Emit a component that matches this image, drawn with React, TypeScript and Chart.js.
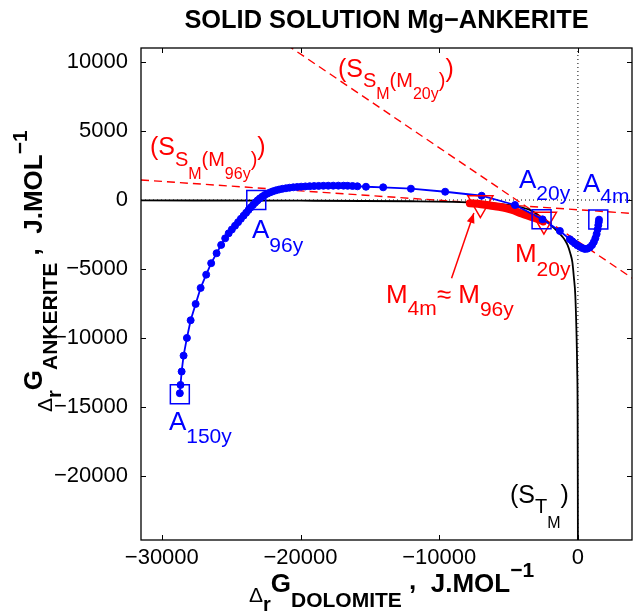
import React, { useEffect, useRef } from "react";
import { Chart, registerables } from "chart.js";

Chart.register(...registerables);

const FONT = "'Liberation Sans', Arial, Helvetica, sans-serif";
const BLUE = "#0000ff";
const RED = "#ff0000";

// axes
const xRange = [-31500, 3900];
const yRange = [-24600, 11000];
const xTicks = [-30000, -20000, -10000, 0];
const yTicks = [10000, 5000, 0, -5000, -10000, -15000, -20000];

// Ankerite path (blue dots), J/mol
const ankX = [
  -28700, -28650, -28570, -28430, -28190, -27920, -27560, -27200, -26800, -26440,
  -26050, -25720, -25430, -25180, -24950, -24720, -24500, -24300, -24100, -23920,
  -23750, -23580, -23420, -23260, -23100, -22940, -22770, -22590, -22400, -22200,
  -21990, -21770, -21540, -21300, -21050, -20790, -20520, -20240, -19950, -19650,
  -19340, -19020, -18690, -18350, -18000, -17640, -17270, -16900, -16600, -16250,
  -15900, -15280, -14040, -12040, -9570, -6940, -4540, -2550, -1300, -580,
  -400, -220, -50, 140, 320, 500, 680, 860, 1020, 1150,
  1260, 1350, 1420, 1470, 1500, 1520,
];
const ankY = [
  -13980, -13380, -12410, -11260, -9980, -8700, -7520, -6360, -5400, -4570,
  -3850, -3250, -2770, -2410, -2130, -1860, -1600, -1360, -1130, -920,
  -720, -530, -350, -180, -30, 110, 240, 360, 460, 550,
  630, 700, 760, 810, 850, 890, 920, 945, 965, 985,
  1000, 1012, 1022, 1030, 1035, 1038, 1040, 1038, 1030, 1015,
  995, 960, 920, 820, 600, 310, -360, -1400, -2240, -2840,
  -2990, -3140, -3270, -3390, -3480, -3540, -3520, -3430, -3260, -3030,
  -2760, -2460, -2130, -1820, -1600, -1420,
];

// square markers A150y, A96y, A20y, A4m
const sqX = [-28700, -23190, -2620, 1470];
const sqY = [-14050, 0, -1390, -1410];

// triangle markers M4m≈M96y, M20y
const triX = [-7030, -2450];
const triY = [-220, -1410];

// thick red band (M path)
const mX = [-7790, -7000, -6340, -5700, -5140, -4600, -4180, -3700, -3300, -2900, -2500];
const mY = [-240, -300, -400, -490, -600, -760, -940, -1100, -1240, -1380, -1550];

// black curve S_TM
const stmX = [
  -31500, -20000, -12000, -9000, -7000, -5500, -4500, -3500, -2800, -2200,
  -1700, -1300, -1000, -750, -550, -400, -290, -190, -100, -50, -20, 0,
];
const stmY = [
  -30, -50, -90, -130, -200, -300, -450, -700, -1150, -1600,
  -2050, -2450, -2800, -3250, -3850, -4500, -5600, -6850, -9700, -12300, -15500, -24600,
];

// dashed tangent lines
const ssm20X = [-21000, 4000];
const ssm20Y = [11240, -5710];
const ssm96X = [-31500, 3900];
const ssm96Y = [1450, -970];

// arrow (from, to)
const arrowX = [-9110, -7500];
const arrowY = [-5660, -940];

type Run = { t: string; s: number; dy: number; b?: boolean };

const labels: { x: number; y: number; color: string; runs: Run[] }[] = [
  {
    x: -17300, y: 8890, color: RED,
    runs: [
      { t: "(S", s: 25, dy: 0 }, { t: "S", s: 20, dy: 10 }, { t: "M", s: 16, dy: 22 },
      { t: "(M", s: 20, dy: 10 }, { t: "20y", s: 16, dy: 22 }, { t: ")", s: 20, dy: 10 },
      { t: ")", s: 25, dy: 0 },
    ],
  },
  {
    x: -30860, y: 3250, color: RED,
    runs: [
      { t: "(S", s: 25, dy: 0 }, { t: "S", s: 20, dy: 11 }, { t: "M", s: 16, dy: 24 },
      { t: "(M", s: 20, dy: 11 }, { t: "96y", s: 16, dy: 24 }, { t: ")", s: 20, dy: 11 },
      { t: ")", s: 25, dy: 0 },
    ],
  },
  { x: -4250, y: 870, color: BLUE, runs: [{ t: "A", s: 26, dy: 0 }, { t: "20y", s: 21, dy: 12 }] },
  { x: 360, y: 580, color: BLUE, runs: [{ t: "A", s: 26, dy: 0 }, { t: "4m", s: 21, dy: 11 }] },
  { x: -23500, y: -2750, color: BLUE, runs: [{ t: "A", s: 26, dy: 0 }, { t: "96y", s: 21, dy: 14 }] },
  { x: -29490, y: -16630, color: BLUE, runs: [{ t: "A", s: 26, dy: 0 }, { t: "150y", s: 21, dy: 13 }] },
  { x: -4540, y: -4480, color: RED, runs: [{ t: "M", s: 26, dy: 0 }, { t: "20y", s: 21, dy: 14 }] },
  {
    x: -13840, y: -7450, color: RED,
    runs: [
      { t: "M", s: 26, dy: 0 }, { t: "4m", s: 21, dy: 12 }, { t: "\u2248 ", s: 26, dy: 0 },
      { t: "M", s: 26, dy: 0 }, { t: "96y", s: 21, dy: 13 },
    ],
  },
  {
    x: -4900, y: -21920, color: "#000",
    runs: [
      { t: "(S", s: 25, dy: 0 }, { t: "T", s: 20, dy: 10 }, { t: "M", s: 16, dy: 25 },
      { t: ")", s: 25, dy: 0 },
    ],
  },
];

const titleText = "SOLID SOLUTION Mg\u2212ANKERITE";

function axisRuns(sub: string): Run[] {
  return [
    { t: "\u0394", s: 21, dy: 10 },
    { t: "r", s: 20, dy: 19, b: true },
    { t: "G", s: 26, dy: 0, b: true },
    { t: sub, s: 21, dy: 15, b: true },
    { t: " ", s: 26, dy: 0, b: true },
    { t: ",", s: 26, dy: -3, b: true },
    { t: "  ", s: 26, dy: 0, b: true },
    { t: "J.MOL", s: 26, dy: 0, b: true },
    { t: "\u22121", s: 21, dy: -15, b: true },
  ];
}

function drawRuns(ctx: CanvasRenderingContext2D, runs: Run[], x: number, y: number, color: string) {
  let cx = x;
  ctx.fillStyle = color;
  ctx.textAlign = "left";
  ctx.textBaseline = "alphabetic";
  for (const r of runs) {
    ctx.font = `${r.b ? "bold " : ""}${r.s}px ${FONT}`;
    ctx.fillText(r.t, cx, y + r.dy);
    cx += ctx.measureText(r.t).width;
  }
}

const pts = (xs: number[], ys: number[]) => xs.map((x, i) => ({ x, y: ys[i] }));

const overlay = {
  id: "overlay",
  afterDraw(chart: any) {
    const ctx: CanvasRenderingContext2D = chart.ctx;
    const xs = chart.scales.x;
    const ys = chart.scales.y;
    const a = chart.chartArea;
    ctx.save();
    // box
    ctx.strokeStyle = "#000";
    ctx.lineWidth = 1.3;
    ctx.strokeRect(a.left, a.top, a.right - a.left, a.bottom - a.top);
    // inward ticks
    ctx.lineWidth = 1;
    const tl = 5;
    ctx.beginPath();
    for (const v of xTicks) {
      const px = Math.round(xs.getPixelForValue(v)) + 0.5;
      ctx.moveTo(px, a.bottom); ctx.lineTo(px, a.bottom - tl);
      ctx.moveTo(px, a.top); ctx.lineTo(px, a.top + tl);
    }
    for (const v of yTicks) {
      const py = Math.round(ys.getPixelForValue(v)) + 0.5;
      ctx.moveTo(a.left, py); ctx.lineTo(a.left + tl, py);
      ctx.moveTo(a.right, py); ctx.lineTo(a.right - tl, py);
    }
    ctx.stroke();

    // arrow
    const x0 = xs.getPixelForValue(arrowX[0]);
    const y0 = ys.getPixelForValue(arrowY[0]);
    const x1 = xs.getPixelForValue(arrowX[1]);
    const y1 = ys.getPixelForValue(arrowY[1]);
    ctx.strokeStyle = RED;
    ctx.fillStyle = RED;
    ctx.lineWidth = 1.5;
    ctx.beginPath(); ctx.moveTo(x0, y0); ctx.lineTo(x1, y1); ctx.stroke();
    const ang = Math.atan2(y1 - y0, x1 - x0);
    const hl = 10, hw = 4;
    ctx.beginPath();
    ctx.moveTo(x1, y1);
    ctx.lineTo(x1 - hl * Math.cos(ang) + hw * Math.sin(ang), y1 - hl * Math.sin(ang) - hw * Math.cos(ang));
    ctx.lineTo(x1 - hl * Math.cos(ang) - hw * Math.sin(ang), y1 - hl * Math.sin(ang) + hw * Math.cos(ang));
    ctx.closePath(); ctx.fill();

    // annotations
    for (const l of labels) {
      drawRuns(ctx, l.runs, xs.getPixelForValue(l.x), ys.getPixelForValue(l.y), l.color);
    }

    // title
    ctx.font = `bold 25.4px ${FONT}`;
    ctx.fillStyle = "#000";
    ctx.textAlign = "center";
    ctx.textBaseline = "alphabetic";
    ctx.fillText(titleText, (a.left + a.right) / 2, 28);

    // x label
    drawRuns(ctx, axisRuns("DOLOMITE"), 249, 592, "#000");
    // y label
    ctx.translate(42, 412);
    ctx.rotate(-Math.PI / 2);
    drawRuns(ctx, axisRuns("ANKERITE"), 0, 0, "#000");
    ctx.restore();
  },
};

const fmt = (v: any) => String(v).replace("-", "\u2212");

export default function App() {
  const ref = useRef<HTMLCanvasElement | null>(null);
  useEffect(() => {
    if (!ref.current) return;
    const chart = new Chart(ref.current, {
      type: "scatter",
      data: {
        datasets: [
          {
            data: pts(sqX, sqY), showLine: false, pointStyle: "rect", pointRadius: 13.4,
            pointBorderColor: BLUE, pointBackgroundColor: "rgba(0,0,0,0)", pointBorderWidth: 1.5,
          },
          {
            data: pts(triX, triY), showLine: false, pointStyle: "triangle", rotation: 180, pointRadius: 14.5,
            pointBorderColor: RED, pointBackgroundColor: "rgba(0,0,0,0)", pointBorderWidth: 1.5,
          },
          {
            data: pts(ankX, ankY), showLine: true, borderColor: BLUE, borderWidth: 1.8,
            pointRadius: 3.5, pointBackgroundColor: BLUE, pointBorderColor: BLUE, pointBorderWidth: 1,
          },
          {
            data: pts(mX, mY), showLine: true, borderColor: RED, borderWidth: 8,
            borderCapStyle: "round", borderJoinStyle: "round", pointRadius: 0, tension: 0.3,
          },
          {
            data: pts(stmX, stmY), showLine: true, borderColor: "#000", borderWidth: 1.8,
            pointRadius: 0, tension: 0.3, cubicInterpolationMode: "monotone",
          },
          {
            data: pts(ssm20X, ssm20Y), showLine: true, borderColor: RED, borderWidth: 1.4,
            borderDash: [8, 5], pointRadius: 0,
          },
          {
            data: pts(ssm96X, ssm96Y), showLine: true, borderColor: RED, borderWidth: 1.4,
            borderDash: [8, 5], pointRadius: 0,
          },
          {
            data: [{ x: 0, y: yRange[0] }, { x: 0, y: yRange[1] }], showLine: true, borderColor: "#000",
            borderWidth: 1, borderDash: [1, 3], pointRadius: 0,
          },
          {
            data: [{ x: xRange[0], y: 0 }, { x: xRange[1], y: 0 }], showLine: true, borderColor: "#000",
            borderWidth: 1, borderDash: [1, 3], pointRadius: 0,
          },
        ] as any,
      },
      options: {
        animation: false,
        responsive: false,
        maintainAspectRatio: false,
        devicePixelRatio: 1,
        layout: { autoPadding: false, padding: { top: 48, right: 1, left: 0, bottom: 0 } },
        plugins: { legend: { display: false }, tooltip: { enabled: false }, title: { display: false } },
        scales: {
          x: {
            type: "linear", min: xRange[0], max: xRange[1],
            grid: { display: false, drawTicks: false }, border: { display: false },
            ticks: { color: "#000", font: { family: FONT, size: 22 }, padding: 5, callback: fmt, maxRotation: 0, autoSkip: false },
            afterBuildTicks: (s: any) => { s.ticks = xTicks.map((v) => ({ value: v })); },
            afterFit: (s: any) => { s.height = 72; s.paddingLeft = 0; s.paddingRight = 0; },
          },
          y: {
            type: "linear", min: yRange[0], max: yRange[1],
            grid: { display: false, drawTicks: false }, border: { display: false },
            ticks: { color: "#000", font: { family: FONT, size: 22 }, padding: 13, callback: fmt, autoSkip: false },
            afterBuildTicks: (s: any) => { s.ticks = yTicks.map((v) => ({ value: v })); },
            afterFit: (s: any) => { s.width = 141; s.paddingTop = 0; s.paddingBottom = 0; },
          },
        },
      } as any,
      plugins: [overlay],
    });
    return () => chart.destroy();
  }, []);
  return (
    <div style={{ position: "absolute", left: 0, top: 0 }}>
      <canvas ref={ref} width={633} height={612} style={{ display: "block", width: 633, height: 612 }} />
    </div>
  );
}
